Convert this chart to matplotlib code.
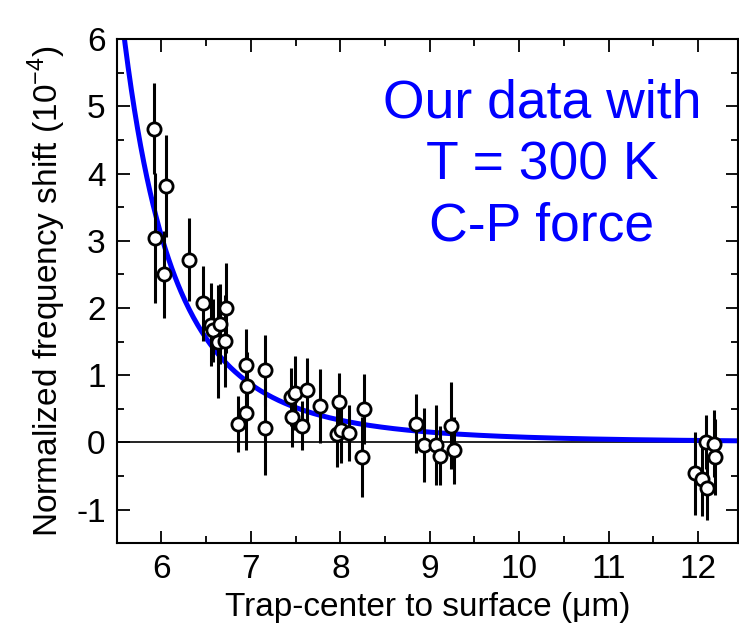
import numpy as np
import matplotlib
matplotlib.use("Agg")
import matplotlib.pyplot as plt
from matplotlib.ticker import MultipleLocator

plt.rcParams['font.family'] = ['Liberation Sans', 'DejaVu Sans']
plt.rcParams['mathtext.fontset'] = 'custom'
plt.rcParams['mathtext.rm'] = 'Liberation Sans'
plt.rcParams['axes.unicode_minus'] = False

# Measured frequency shifts (units of 1e-4) vs trap-center distance (um)
distance = [5.92, 5.93, 6.05, 6.03, 6.31, 6.46, 6.55, 6.58, 6.66, 6.72,
            6.63, 6.71, 6.94, 6.96, 6.94, 6.86, 7.16, 7.16, 7.45, 7.49,
            7.46, 7.63, 7.57, 7.77, 7.98, 7.96, 8.01, 8.10, 8.26, 8.24,
            8.85, 8.94, 9.07, 9.11, 9.24, 9.27, 12.09, 12.18, 12.19, 11.97,
            12.04, 12.10]
shift = [4.67, 3.04, 3.81, 2.50, 2.72, 2.07, 1.75, 1.67, 1.76, 2.00,
         1.50, 1.51, 1.15, 0.84, 0.44, 0.27, 1.07, 0.22, 0.68, 0.74,
         0.37, 0.78, 0.25, 0.54, 0.60, 0.13, 0.19, 0.14, 0.49, -0.22,
         0.28, -0.04, -0.04, -0.20, 0.25, -0.12, 0.00, -0.02, -0.22, -0.46,
         -0.55, -0.68]
shift_err = [0.68, 0.97, 0.76, 0.65, 0.62, 0.56, 0.62, 0.47, 0.60, 0.67,
             0.84, 0.68, 0.53, 0.50, 0.55, 0.42, 0.53, 0.70, 0.43, 0.55,
             0.44, 0.48, 0.36, 0.55, 0.43, 0.50, 0.50, 0.42, 0.52, 0.60,
             0.44, 0.55, 0.59, 0.44, 0.65, 0.50, 0.40, 0.50, 0.57, 0.62,
             0.55, 0.48]

# Casimir-Polder model (T = 300 K), y = A / (d - d0)^4
cp_amp = 158.2
cp_offset = 3.32
cp_power = 4

x_ticks = [6, 7, 8, 9, 10, 11, 12]
y_ticks = [-1, 0, 1, 2, 3, 4, 5, 6]

fig = plt.figure(figsize=(7.39, 6.42), dpi=100)
ax = fig.add_axes([0.158, 0.154, 0.841, 0.785])

d = np.linspace(5.5, 12.45, 600)
model = cp_amp / (d - cp_offset) ** cp_power
ax.plot(d, model, color='#0000ff', lw=3.6, zorder=2, solid_capstyle='butt')

ax.axhline(0, color='black', lw=1.2, zorder=1)

ax.errorbar(distance, shift, yerr=shift_err, fmt='o', ms=9.5, mfc='white',
            mec='black', mew=2.0, ecolor='black', elinewidth=2.2,
            capsize=0, zorder=3)

ax.set_xlim(5.5, 12.45)
ax.set_ylim(-1.5, 6)
ax.set_xticks(x_ticks)
ax.set_yticks(y_ticks)
ax.xaxis.set_minor_locator(MultipleLocator(0.5))
ax.yaxis.set_minor_locator(MultipleLocator(0.5))
ax.tick_params(which='both', direction='in', top=True, right=True,
               width=1.3, labelsize=24, pad=8)
ax.tick_params(which='major', length=9)
ax.tick_params(which='minor', length=5)
for s in ax.spines.values():
    s.set_linewidth(1.5)

ax.set_xlabel('Trap-center to surface (\u03bcm)', fontsize=24, labelpad=5)
ax.set_ylabel(r'Normalized frequency shift (10$^{-4}$)', fontsize=24,
              labelpad=6)

ax.text(0.684, 0.75, 'Our data with\nT = 300 K\nC-P force',
        transform=ax.transAxes, ha='center', va='center', color='#0000ff',
        fontsize=38.5, linespacing=1.3)

fig.savefig('out.png', dpi=100)
